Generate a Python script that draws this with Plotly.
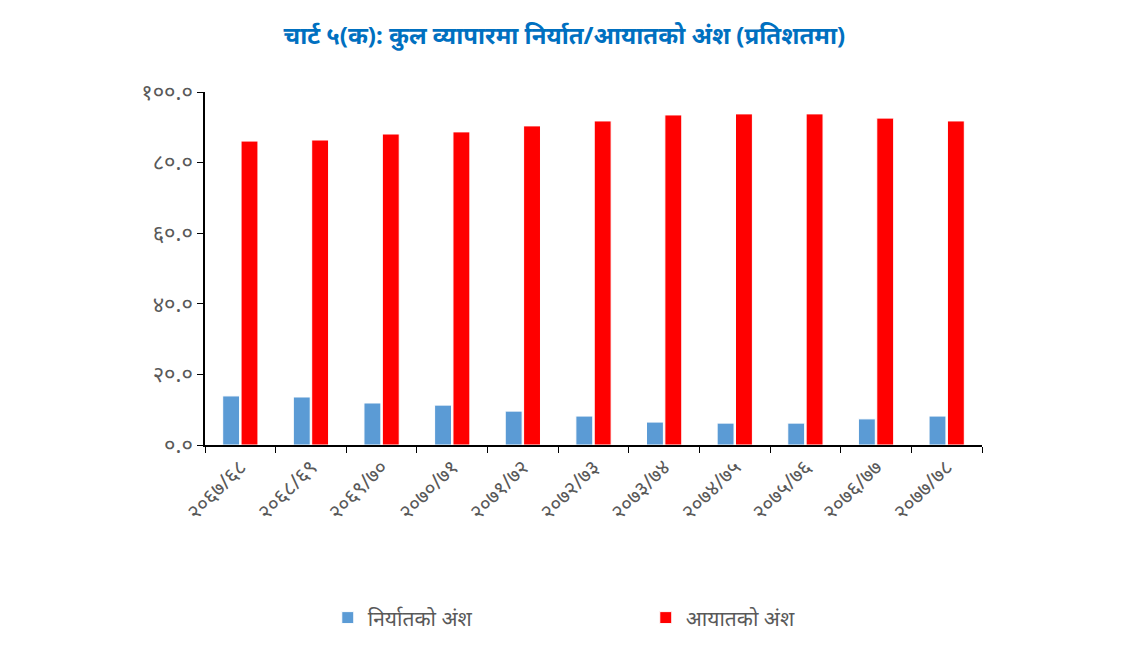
import plotly.graph_objects as go

categories = ["२०६७/६८", "२०६८/६९", "२०६९/७०", "२०७०/७१", "२०७१/७२", "२०७२/७३",
              "२०७३/७४", "२०७४/७५", "२०७५/७६", "२०७६/७७", "२०७७/७८"]
export_share = [13.9, 13.6, 11.9, 11.3, 9.6, 8.2, 6.5, 6.2, 6.2, 7.4, 8.2]
import_share = [86.1, 86.4, 88.1, 88.7, 90.4, 91.8, 93.5, 93.8, 93.8, 92.6, 91.8]
y_tickvals = [0, 20, 40, 60, 80, 100]
y_ticktext = ["०.०", "२०.०", "४०.०", "६०.०", "८०.०", "१००.०"]
series_names = ["निर्यातको अंश", "आयातको अंश"]
title_text = "चार्ट ५(क): कुल व्यापारमा निर्यात/आयातको अंश (प्रतिशतमा)"

FONT = "Noto Sans, Noto Sans Devanagari, Lohit Devanagari, FreeSans, sans-serif"

fig = go.Figure()
fig.add_trace(go.Bar(x=categories, y=export_share, name=series_names[0],
                     marker=dict(color="#5B9BD5", line=dict(color="white", width=1))))
fig.add_trace(go.Bar(x=categories, y=import_share, name=series_names[1],
                     marker=dict(color="#FF0000", line=dict(color="white", width=1))))

fig.update_layout(
    width=1140, height=647,
    paper_bgcolor="white", plot_bgcolor="white",
    barmode="group", bargap=0.48, bargroupgap=0.08,
    font=dict(family=FONT, color="#595959", size=15),
    title=dict(text="<b>" + title_text + "</b>", x=0.488, xanchor="center", y=0.958,
               yanchor="middle",
               font=dict(family=FONT, size=24, color="#0070C0")),
    margin=dict(l=197, r=166, t=84, b=210),
    showlegend=True,
    legend=dict(orientation="h", x=0.158, xanchor="left", y=-0.49, yanchor="middle",
                font=dict(size=21, color="#595959"), itemwidth=30,
                entrywidth=273, entrywidthmode="pixels"),
    xaxis=dict(showline=True, linecolor="black", linewidth=1.5, ticks="outside",
               tickson="boundaries", ticklen=6, tickcolor="black", tickangle=-45,
               tickfont=dict(size=21, color="#595959"), showgrid=False),
    yaxis=dict(range=[0, 100], tickvals=y_tickvals, ticktext=y_ticktext,
               showline=True, linecolor="black", linewidth=1.5, ticks="outside",
               ticklen=6, tickcolor="black", showgrid=False, zeroline=False,
               tickfont=dict(size=22, color="#595959")),
)

fig.write_html("out.html")
